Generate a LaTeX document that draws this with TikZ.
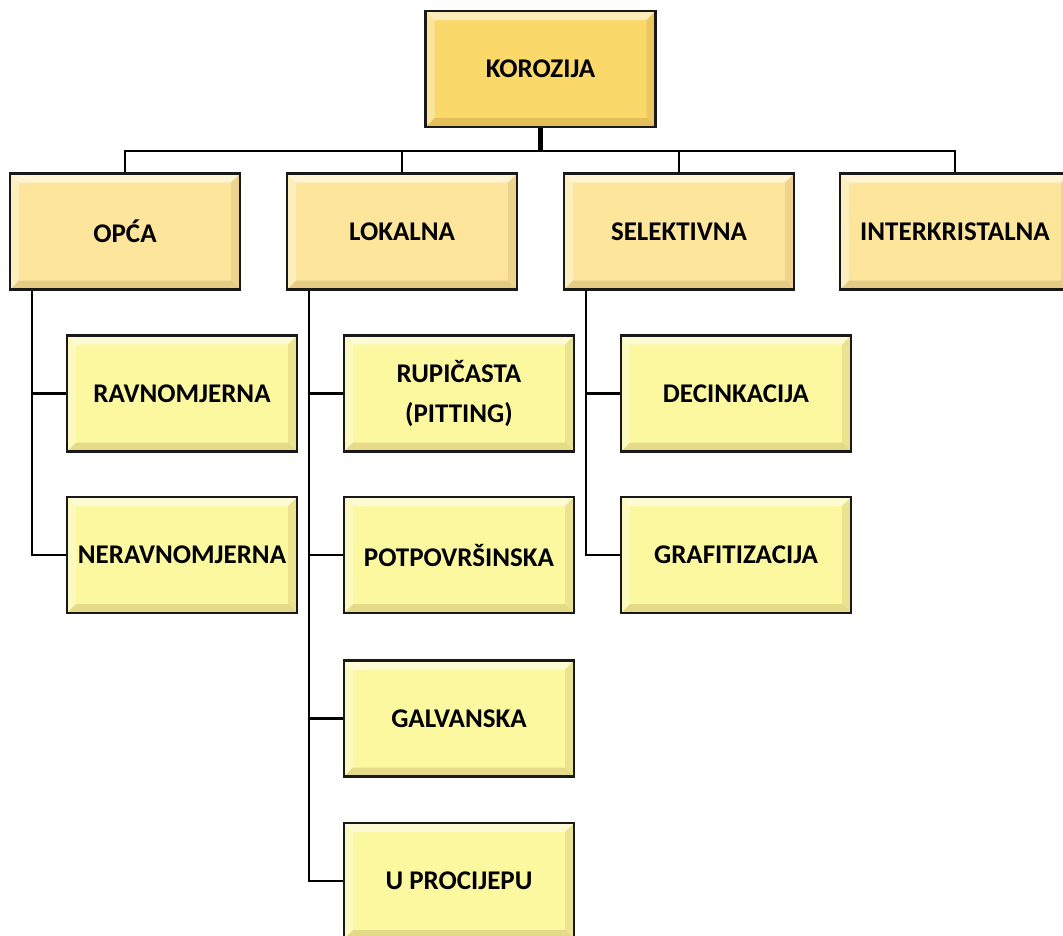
\documentclass[tikz,border=0pt]{standalone}
\usepackage{fontspec}
\setmainfont{Carlito}
\definecolor{cTop}{RGB}{250,216,106}
\definecolor{cMid}{RGB}{253,230,156}
\definecolor{cLow}{RGB}{251,248,160}
\tikzset{
  bevel/.style={path picture={
    \coordinate (pnw) at (path picture bounding box.north west);
    \coordinate (pne) at (path picture bounding box.north east);
    \coordinate (psw) at (path picture bounding box.south west);
    \coordinate (pse) at (path picture bounding box.south east);
    \fill[white,opacity=.55] (pnw) -- (pne) -- ([xshift=-9pt,yshift=-9pt]pne) -- ([xshift=9pt,yshift=-9pt]pnw) -- cycle;
    \fill[white,opacity=.35] (pnw) -- ([xshift=9pt,yshift=-9pt]pnw) -- ([xshift=9pt,yshift=9pt]psw) -- (psw) -- cycle;
    \fill[black!60!orange,opacity=.15] (psw) -- ([xshift=9pt,yshift=9pt]psw) -- ([xshift=-9pt,yshift=9pt]pse) -- (pse) -- cycle;
    \fill[black!60!orange,opacity=.10] (pne) -- (pse) -- ([xshift=-9pt,yshift=9pt]pse) -- ([xshift=-9pt,yshift=-9pt]pne) -- cycle;
  }},
  box/.style={draw=black!90, line width=2.2pt, minimum width=230pt, minimum height=116pt,
    inner sep=0pt, align=center, font=\fontsize{27}{40}\selectfont\bfseries, text=black, bevel},
  topbox/.style={box, fill=cTop},
  midbox/.style={box, fill=cMid},
  lowbox/.style={box, fill=cLow},
  link/.style={line width=2.6pt, black},
}
\begin{document}
\begin{tikzpicture}[x=1pt,y=-1pt]
\useasboundingbox (0,0) rectangle (1063,935);
\node[topbox] (kor) at (540.5,69) {KOROZIJA};
\node[midbox] (opca) at (125,231.5) {OPĆA};
\node[midbox] (lok) at (402,231.5) {LOKALNA};
\node[midbox] (sel) at (679,231.5) {SELEKTIVNA};
\node[midbox] (inter) at (955,231.5) {INTERKRISTALNA};
\node[lowbox] (rav) at (182,393.5) {RAVNOMJERNA};
\node[lowbox] (nerav) at (182,555) {NERAVNOMJERNA};
\node[lowbox] (rup) at (459,393.5) {RUPIČASTA\\(PITTING)};
\node[lowbox] (pot) at (459,555) {POTPOVRŠINSKA};
\node[lowbox] (gal) at (459,718.5) {GALVANSKA};
\node[lowbox] (uproc) at (459,881) {U PROCIJEPU};
\node[lowbox] (dec) at (736,393.5) {DECINKACIJA};
\node[lowbox] (gra) at (736,555) {GRAFITIZACIJA};
\coordinate (bus) at (0,151);
\draw[link, line width=4.5pt] (kor.south) -- (kor.south |- bus);
\draw[link] (opca.north) -- (opca.north |- bus) -- (inter.north |- bus) -- (inter.north);
\draw[link] (lok.north) -- (lok.north |- bus);
\draw[link] (sel.north) -- (sel.north |- bus);
\coordinate (opcaT) at ([xshift=23pt]opca.south west);
\coordinate (lokT) at ([xshift=23pt]lok.south west);
\coordinate (selT) at ([xshift=23pt]sel.south west);
\draw[link] (opcaT) |- (rav.west);
\draw[link] (opcaT) |- (nerav.west);
\draw[link] (lokT) |- (rup.west);
\draw[link] (lokT) |- (pot.west);
\draw[link] (lokT) |- (gal.west);
\draw[link] (lokT) |- (uproc.west);
\draw[link] (selT) |- (dec.west);
\draw[link] (selT) |- (gra.west);
\end{tikzpicture}
\end{document}
